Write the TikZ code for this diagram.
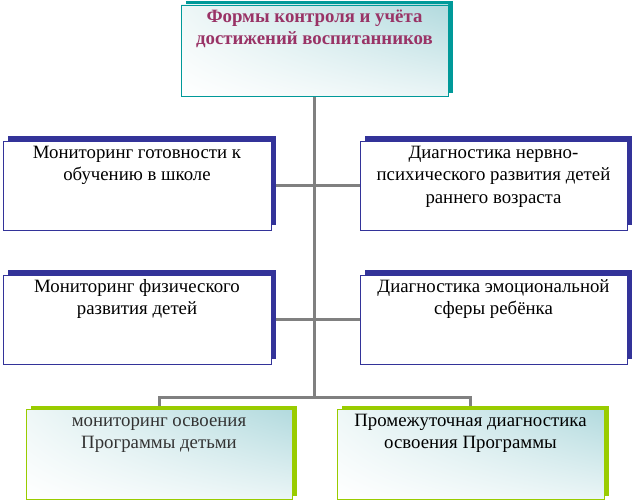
\documentclass[tikz,border=0pt]{standalone}
\usepackage{fontspec}
\setmainfont{Liberation Serif}
\newfontfamily\tnr{Liberation Serif}
\usetikzlibrary{shadows,shadings,backgrounds}
\definecolor{tealc}{RGB}{0,153,153}
\definecolor{navyc}{RGB}{51,51,153}
\definecolor{limec}{RGB}{153,204,0}
\definecolor{connc}{RGB}{128,128,128}
\definecolor{titlec}{RGB}{153,51,102}
\definecolor{shadeA}{RGB}{178,218,222}
\definecolor{shadeB}{RGB}{238,247,247}
\definecolor{shadeC}{RGB}{234,245,246}
\definecolor{darktext}{RGB}{51,51,51}
\newcommand{\boxtext}[3]{\parbox[c][#2pt][t]{#1pt}{\centering\tnr\fontsize{18.8}{22.5}\selectfont\rule{0pt}{17pt}#3\par}}
\tikzset{
  basebox/.style={rectangle, inner sep=0pt, outer sep=0pt, line width=0.9pt},
  tealbox/.style={basebox, draw=tealc,
    upper right=shadeA, upper left=shadeB, lower right=shadeC, lower left=white,
    drop shadow={shadow xshift=5pt, shadow yshift=3.5pt, fill=tealc, opacity=1}},
  navybox/.style={basebox, draw=navyc, fill=white,
    drop shadow={shadow xshift=5pt, shadow yshift=5pt, fill=navyc, opacity=1}},
  limebox/.style={basebox, draw=limec,
    upper right=shadeA, upper left=shadeB, lower right=shadeC, lower left=white,
    drop shadow={shadow xshift=5pt, shadow yshift=3.5pt, fill=limec, opacity=1}},
  conn/.style={draw=connc, line width=3pt}
}
\begin{document}
\begin{tikzpicture}[x=1pt,y=-1pt]
\useasboundingbox (0,0) rectangle (634,503);
\node[tealbox] (top) at (314.5,50.5) {\boxtext{267}{91}{\bfseries\color{titlec}Формы контроля и учёта\\достижений воспитанников}};
\node[navybox] (L1) at (137,185.5) {\boxtext{268}{89}{Мониторинг готовности к\\обучению в школе}};
\node[navybox] (R1) at (493.5,185.5) {\boxtext{267}{89}{Диагностика нервно-\\психического развития детей\\раннего возраста}};
\node[navybox] (L2) at (137,319.5) {\boxtext{268}{89}{Мониторинг физического\\развития детей}};
\node[navybox] (R2) at (493.5,319.5) {\boxtext{267}{89}{Диагностика эмоциональной\\сферы ребёнка}};
\node[limebox] (B1) at (159,454) {\boxtext{266}{90}{\color{darktext}мониторинг освоения\\Программы детьми}};
\node[limebox] (B2) at (470.5,454) {\boxtext{267}{90}{Промежуточная диагностика\\освоения Программы}};
\coordinate (jb) at (314.5,397);
\begin{scope}[on background layer]
\draw[conn] (top) -- (jb);
\draw[conn] (L1) -- (R1);
\draw[conn] (L2) -- (R2);
\draw[conn] (jb) -| (B1.north);
\draw[conn] (jb) -| (B2.north);
\end{scope}
\end{tikzpicture}
\end{document}
